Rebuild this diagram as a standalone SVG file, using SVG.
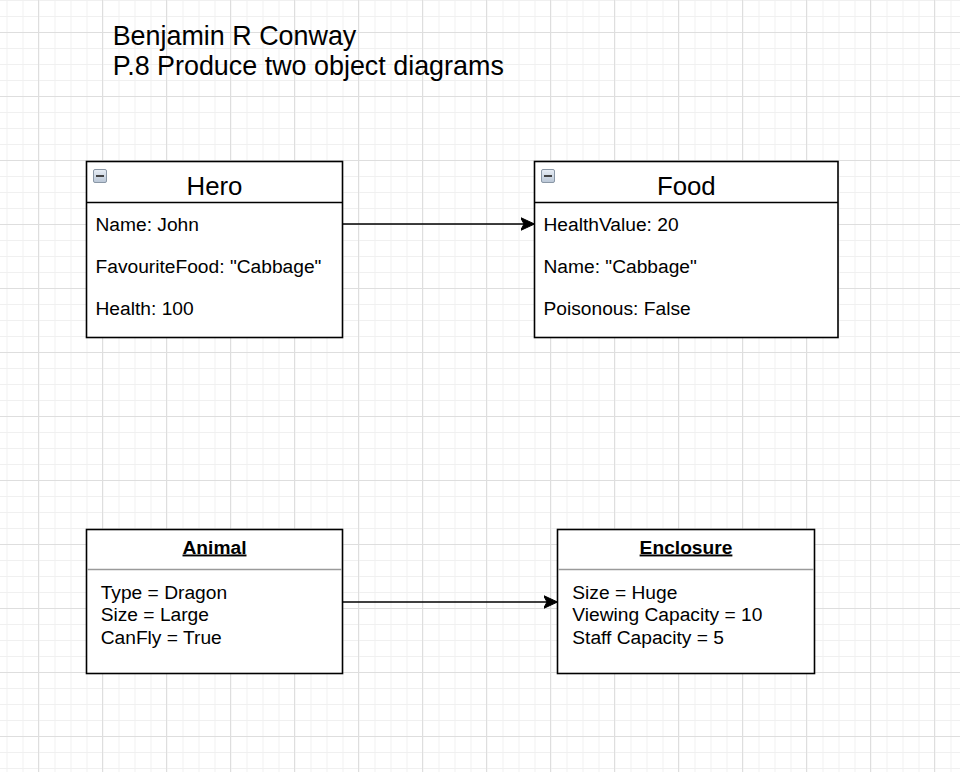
<svg xmlns="http://www.w3.org/2000/svg" width="960" height="772" viewBox="0 0 960 772">
  <defs>
    <pattern id="minor" x="6.5" y="0" width="16" height="16" patternUnits="userSpaceOnUse">
      <path d="M0.5 0 V16 M0 0.5 H16" fill="none" stroke="#f0f0f0" stroke-width="1"/>
    </pattern>
    <pattern id="major" x="38" y="32" width="64" height="64" patternUnits="userSpaceOnUse">
      <path d="M0.5 0 V64 M0 0.5 H64" fill="none" stroke="#dedede" stroke-width="1"/>
    </pattern>
    <marker id="arrow" viewBox="0 0 14 14" refX="14" refY="7" markerWidth="14" markerHeight="14" markerUnits="userSpaceOnUse" orient="auto">
      <path d="M14 7 L0 0.5 L3.5 7 L0 13.5 Z" fill="#000" stroke="#000" stroke-width="1" stroke-linejoin="miter"/>
    </marker>
    <linearGradient id="btn" x1="0" y1="0" x2="0" y2="1">
      <stop offset="0" stop-color="#e8eef6"/>
      <stop offset="1" stop-color="#b9c6d6"/>
    </linearGradient>
  </defs>
  <style>
    text { font-family: "Liberation Sans", Arial, Helvetica, sans-serif; fill: #000; }
    .title { font-size: 26.9px; }
    .hdr { font-size: 25.8px; text-anchor: middle; }
    .attr { font-size: 19.2px; }
    .ohdr { font-size: 19.2px; font-weight: bold; text-anchor: middle; text-decoration: underline; }
    .box { fill: #fff; stroke: #000; stroke-width: 1.6; }
    .div { stroke: #000; stroke-width: 1.6; }
    .odiv { stroke: #9a9a9a; stroke-width: 1.6; }
    .edge { fill: none; stroke: #000; stroke-width: 1.6; marker-end: url(#arrow); }
    .btn { fill: url(#btn); stroke: #8a97a6; stroke-width: 1; }
    .minus { stroke: #333; stroke-width: 1.8; }
  </style>

  <rect width="960" height="772" fill="#fff"/>
  <rect width="960" height="772" fill="url(#minor)"/>
  <rect width="960" height="772" fill="url(#major)"/>

  <g id="title">
    <text class="title" x="112.7" y="44.5">Benjamin R Conway</text>
    <text class="title" x="112.7" y="75">P.8 Produce two object diagrams</text>
  </g>

  <g id="connectors">
    <path class="edge" d="M342.5 224 H534.5"/>
    <path class="edge" d="M342.5 602 H557.5"/>
  </g>

  <g id="hero">
    <rect class="box" x="86.5" y="161.5" width="256" height="176"/>
    <line class="div" x1="86.5" y1="202.5" x2="342.5" y2="202.5"/>
    <rect class="btn" x="93.5" y="169.5" width="13" height="13" rx="1.5"/>
    <line class="minus" x1="96" y1="176" x2="104" y2="176"/>
    <text class="hdr" x="214.5" y="194.5">Hero</text>
    <text class="attr" x="95.5" y="231">Name: John</text>
    <text class="attr" x="95.5" y="273">FavouriteFood: "Cabbage"</text>
    <text class="attr" x="95.5" y="315">Health: 100</text>
  </g>

  <g id="food">
    <rect class="box" x="534.5" y="161.5" width="303.5" height="176"/>
    <line class="div" x1="534.5" y1="202.5" x2="838" y2="202.5"/>
    <rect class="btn" x="541.5" y="169.5" width="13" height="13" rx="1.5"/>
    <line class="minus" x1="544" y1="176" x2="552" y2="176"/>
    <text class="hdr" x="686.3" y="194.5">Food</text>
    <text class="attr" x="543.5" y="231">HealthValue: 20</text>
    <text class="attr" x="543.5" y="273">Name: "Cabbage"</text>
    <text class="attr" x="543.5" y="315">Poisonous: False</text>
  </g>

  <g id="animal">
    <rect class="box" x="86.5" y="529.5" width="256" height="144"/>
    <line class="odiv" x1="87.3" y1="569.5" x2="341.7" y2="569.5"/>
    <text class="ohdr" x="214.5" y="553.5">Animal</text>
    <text class="attr" x="100.7" y="599">Type = Dragon</text>
    <text class="attr" x="100.7" y="621.3">Size = Large</text>
    <text class="attr" x="100.7" y="643.5">CanFly = True</text>
  </g>

  <g id="enclosure">
    <rect class="box" x="557.5" y="529.5" width="257" height="144"/>
    <line class="odiv" x1="558.3" y1="569.5" x2="813.7" y2="569.5"/>
    <text class="ohdr" x="686" y="553.5">Enclosure</text>
    <text class="attr" x="572.3" y="599">Size = Huge</text>
    <text class="attr" x="572.3" y="621.3">Viewing Capacity = 10</text>
    <text class="attr" x="572.3" y="643.5">Staff Capacity = 5</text>
  </g>
</svg>
